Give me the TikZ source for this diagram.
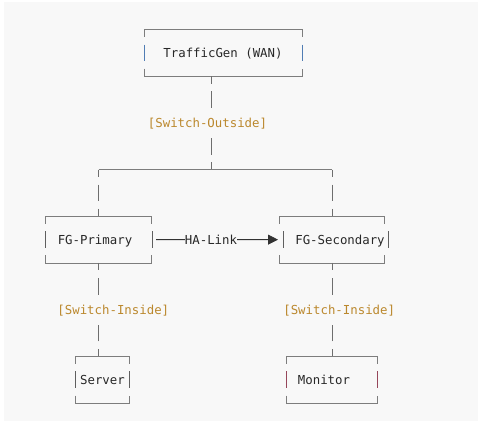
\documentclass[tikz,border=0pt]{standalone}
\usepackage{fontspec}
\newfontfamily\asciimono{DejaVu Sans Mono}
\usetikzlibrary{calc,fit,arrows.meta}
\definecolor{panelcol}{RGB}{248,248,248}
\definecolor{txtcol}{RGB}{40,40,40}
\definecolor{swcol}{RGB}{187,136,45}
\definecolor{hlcol}{RGB}{125,125,125}
\definecolor{conncol}{RGB}{110,110,110}
\definecolor{barcol}{RGB}{95,95,95}
\definecolor{tgbar}{RGB}{80,125,180}
\definecolor{monbar}{RGB}{150,70,90}
\definecolor{halcol}{RGB}{50,50,50}
\newcommand\asciibox[4]{%
  \draw[hl] ($(#1.north west)+(0,7.5)$) -- (#1.north west) -- (#1.north east) -- ($(#1.north east)+(0,7.5)$);
  \draw[hl] ($(#1.south west)+(0,-7.5)$) -- (#1.south west) -- (#1.south east) -- ($(#1.south east)+(0,-7.5)$);
  \draw[bar,draw=#4] ($(#1.west)+(#2,-8.3)$) -- ($(#1.west)+(#2,8.3)$);
  \draw[bar,draw=#4] ($(#1.east)+(#3,-8.3)$) -- ($(#1.east)+(#3,8.3)$);
}
\tikzset{
  hl/.style={draw=hlcol, line width=0.7pt},
  bar/.style={line width=0.65pt},
  txt/.style={font=\asciimono\fontsize{9.28pt}{11pt}\selectfont, text=txtcol, inner sep=0pt, outer sep=0pt, text height=6.8pt, text depth=0pt},
  sw/.style={txt, text=swcol},
  frame/.style={inner sep=0pt, outer sep=0pt, draw=none},
  glyphrun/.style={draw=conncol, line width=0.65pt, dash pattern=on 5.625pt off 5.66pt on 12.45pt off 80pt},
  glyphbridge/.style={draw=conncol, line width=0.65pt, dash pattern=on 5.625pt off 5.66pt on 12.45pt off 5.66pt on 5.625pt off 20pt},
  haline/.style={draw=halcol, line width=0.6pt},
}
\begin{document}
\begin{tikzpicture}[x=0.75pt, y=-0.75pt]
  \fill[white] (0,0) rectangle (481,423);
  \useasboundingbox (0,0) rectangle (481,423);
  \fill[panelcol] (4,2) rectangle (478,421);

  % frames
  \node[frame, fit={(144,29.5) (302,76.2)}] (tgbox) {};
  \node[frame, fit={(45.7,216.3) (151,263)}] (fgpbox) {};
  \node[frame, fit={(279,216.3) (384.3,263)}] (fgsbox) {};
  \node[frame, fit={(75.7,356.4) (129,403.1)}] (srvbox) {};
  \node[frame, fit={(286.7,356.4) (377.3,403.1)}] (monbox) {};

  % texts
  \node[txt] (tg) at (223,52.85) {TrafficGen (WAN)};
  \node[sw] (swout) at (207.5,122.9) {[Switch-Outside]};
  \node[txt] (fgp) at (95,239.65) {FG-Primary};
  \node[txt] (fgs) at (340,239.65) {FG-Secondary};
  \node[sw] (swin1) at (113.3,309.7) {[Switch-Inside]};
  \node[sw] (swin2) at (339.2,309.7) {[Switch-Inside]};
  \node[txt] (srv) at (102.5,379.8) {Server};
  \node[txt] (mon) at (324,379.8) {Monitor};
  \node[txt] (halink) at (211,239.65) {HA-Link};

  % box outlines
  \asciibox{tgbox}{0}{0}{tgbar}
  \asciibox{fgpbox}{0}{1.7}{barcol}
  \asciibox{fgsbox}{4.3}{4}{barcol}
  \asciibox{srvbox}{0}{0}{barcol}
  \asciibox{monbox}{0}{0}{monbar}

  % tree connectors
  \coordinate (tgtap) at ($(tgbox.south)+(-12,0)$);
  \coordinate (hub) at (211,169.6);
  \coordinate (hubL) at (98.5,169.6);
  \coordinate (hubR) at (332,169.6);
  \draw[glyphrun] (tgtap) -- (tgtap |- swout);
  \draw[glyphrun] (hub) -- (hub |- swout);
  \draw[hl] (hubL) -- (hubR);
  \draw[glyphbridge] (hubL) -- (hubL |- fgpbox.north);
  \draw[glyphbridge] (hubR) -- (hubR |- fgsbox.north);
  \draw[glyphrun] (hubL |- fgpbox.south) -- (hubL |- swin1);
  \draw[glyphrun] (hubL |- srvbox.north) -- (hubL |- swin1);
  \draw[glyphrun] (hubR |- fgsbox.south) -- (hubR |- swin2);
  \draw[glyphrun] (hubR |- monbox.north) -- (hubR |- swin2);

  % HA link
  \coordinate (haS) at ($(fgpbox.east)+(5,0)$);
  \coordinate (haE) at ($(fgsbox.west)+(-1,0)$);
  \draw[haline] (haS) -- (halink.west);
  \draw[haline,-{Triangle[length=7.5pt,width=7.5pt]}] (halink.east) -- (haE);
\end{tikzpicture}
\end{document}
